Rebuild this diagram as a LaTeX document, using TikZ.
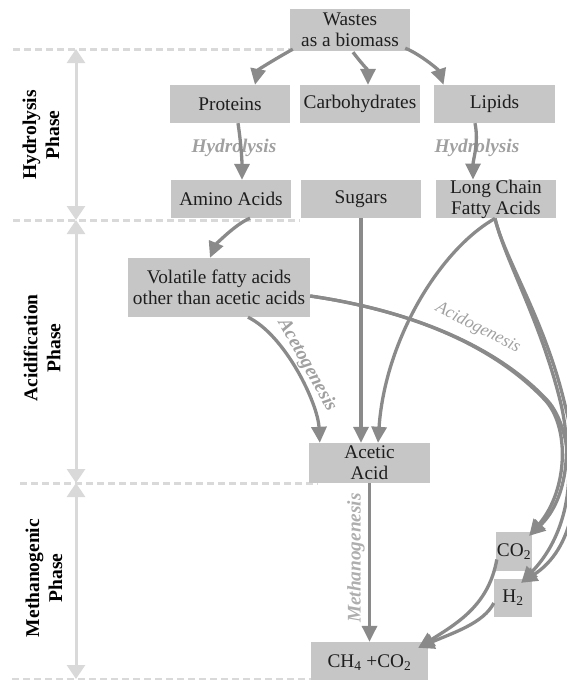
\documentclass[tikz,border=0pt]{standalone}
\usepackage{fontspec}
\setmainfont{Liberation Serif}
\usetikzlibrary{arrows.meta,calc}
\definecolor{boxgray}{RGB}{198,198,198}
\definecolor{flowgray}{RGB}{138,138,138}
\definecolor{phasegray}{RGB}{217,217,217}
\definecolor{labelgray}{RGB}{160,160,160}
\definecolor{inkgray}{RGB}{30,30,30}

\begin{document}
\begin{tikzpicture}[x=1pt,y=-1pt,
  box/.style={fill=boxgray, inner sep=0pt, align=center, text=inkgray,
    font=\fontsize{19.3}{21}\selectfont},
  flow/.style={draw=flowgray, line width=3.3pt, -{Triangle[length=16pt,width=15pt]}},
  phasearrow/.style={draw=phasegray, line width=3pt,
    {Triangle[length=14pt,width=18pt]}-{Triangle[length=14pt,width=18pt]}},
  phaseline/.style={draw=phasegray, line width=3pt, dash pattern=on 7pt off 4pt},
  phaselabel/.style={rotate=90, align=center, text=black,
    font=\bfseries\fontsize{19.5}{23}\selectfont},
  steplabel/.style={text=labelgray, inner sep=0pt,
    font=\bfseries\itshape\fontsize{19.3}{21}\selectfont},
]
\useasboundingbox (0,0) rectangle (567,680);
\clip (0,0) rectangle (567,680);

% phase boundaries
\draw[phaseline] (13,49) -- (292,49);
\draw[phaseline] (13,220) -- (300,220);
\draw[phaseline] (20,483) -- (318,483);
\draw[phaseline] (12,679) -- (318,679);

\coordinate (p0) at (76,49);
\coordinate (p1) at (76,220);
\coordinate (p2) at (76,483);
\coordinate (p3) at (76,679);
\draw[phasearrow] (p0) -- (p1);
\draw[phasearrow] (p1) -- (p2);
\draw[phasearrow] (p2) -- (p3);

\node[phaselabel] (lhyd) at (41,135) {Hydrolysis\\Phase};
\node[phaselabel] (lacid) at (42,348) {Acidification\\Phase};
\node[phaselabel] (lmeth) at (44,578) {Methanogenic\\Phase};

% substances
\node[box, minimum width=120pt, minimum height=42pt] (wastes) at (350,30) {Wastes\\as a biomass};
\node[box, minimum width=120pt, minimum height=38pt] (prot) at (230,104) {Proteins};
\node[box, minimum width=120pt, minimum height=38pt] (carb) at (360,104) {Carbohydrates};
\node[box, minimum width=121pt, minimum height=38pt] (lip) at (494.5,104) {Lipids};
\node[box, minimum width=120pt, minimum height=38pt] (amino) at (231,199) {Amino Acids};
\node[box, minimum width=120pt, minimum height=38pt] (sugar) at (361,199) {Sugars};
\node[box, minimum width=120pt, minimum height=38pt] (lcfa) at (496,199) {Long Chain\\Fatty Acids};
\node[box, minimum width=182pt, minimum height=59pt] (vfa) at (219,287.5) {Volatile fatty acids\\other than acetic acids};
\node[box, minimum width=121pt, minimum height=40pt] (acetic) at (369.5,463) {Acetic\\Acid};
\node[box, minimum width=36pt, minimum height=39pt] (co2) at (514,551.5) {CO\textsubscript{2}};
\node[box, minimum width=38pt, minimum height=38pt] (h2) at (513,598) {H\textsubscript{2}};
\node[box, minimum width=117pt, minimum height=42pt] (ch4) at (369.5,663) {CH\textsubscript{4} +CO\textsubscript{2}};

% process names
\node[steplabel] (hyd1) at (234,148) {Hydrolysis};
\node[steplabel] (hyd2) at (477,148) {Hydrolysis};
\node[steplabel, rotate=-61] (aceto) at (307,365) {Acetogenesis};
\node[steplabel, rotate=-27, font=\itshape\fontsize{17.5}{19}\selectfont] (acido) at (478,328) {Acidogenesis};
\node[steplabel, rotate=90, text=labelgray!85] (metha) at (356,558) {Methanogenesis};

% hydrolysis
\draw[flow] ($(wastes.south west)+(3,-2)$) .. controls +(-18,10) and +(3,-15) .. ($(prot.north)+(25,0)$);
\draw[flow] ($(wastes.south)+(3,1)$) .. controls +(6,8) and +(0,-14) .. ($(carb.north)+(8,0)$);
\draw[flow] ($(wastes.south east)+(-5,-3)$) .. controls +(15,6) and +(-5,-15) .. ($(lip.north)+(-51,0)$);
\draw[flow] ($(prot.south)+(8,0)$) .. controls +(3,20) and +(0,-20) .. ($(amino.north)+(11,0)$);
\draw[flow] ($(lip.south)+(-19.5,0)$) .. controls +(4,20) and +(0,-20) .. ($(lcfa.north)+(-23,0)$);

% acidification
\draw[flow] ($(amino.south)+(19,0)$) .. controls +(-15,6) and +(5,-12) .. ($(vfa.north)+(-9,0)$);
\draw[flow] (sugar.south) -- (sugar.south |- acetic.north);
\draw[flow] ($(vfa.south)+(29,0)$) .. controls +(37,18) and +(-2,-40) .. ($(acetic.north west)+(11,0)$);
\draw[flow] ($(lcfa.south)+(-1,0)$) .. controls +(-55,31) and +(7,-103) .. ($(acetic.north)+(8.5,0)$);

% acidogenesis towards the gases
\draw[flow] ($(vfa.east)+(0,8.5)$) .. controls (420,312) and (498,350) .. (545,400)
  .. controls (570,427) and (568,490) .. ($(co2.north east)+(-3,4)$);
\draw[flow] ($(vfa.east)+(0,8.5)$) .. controls (420,312) and (500,350) .. (547,400)
  .. controls (575,430) and (582,520) .. ($(h2.north east)+(-11,4)$);
\draw[flow] ($(lcfa.south)+(-1,0)$) .. controls (505,260) and (540,320) .. (560,400)
  .. controls (575,460) and (562,505) .. ($(co2.north east)+(-3,4)$);
\draw[flow] ($(lcfa.south)+(-1,0)$) .. controls (505,260) and (545,320) .. (565,405)
  .. controls (587,490) and (572,550) .. ($(h2.north east)+(-11,4)$);

% methanogenesis
\draw[flow] (acetic.south) -- (ch4.north);
\draw[flow] ($(co2.west)+(1,8)$) .. controls +(-8,45) and +(40,-25) .. ($(ch4.north east)+(-10,6)$);
\draw[flow] ($(h2.west)+(0,5)$) .. controls +(-10,20) and +(35,-15) .. ($(ch4.north east)+(-10,6)$);
\end{tikzpicture}
\end{document}
